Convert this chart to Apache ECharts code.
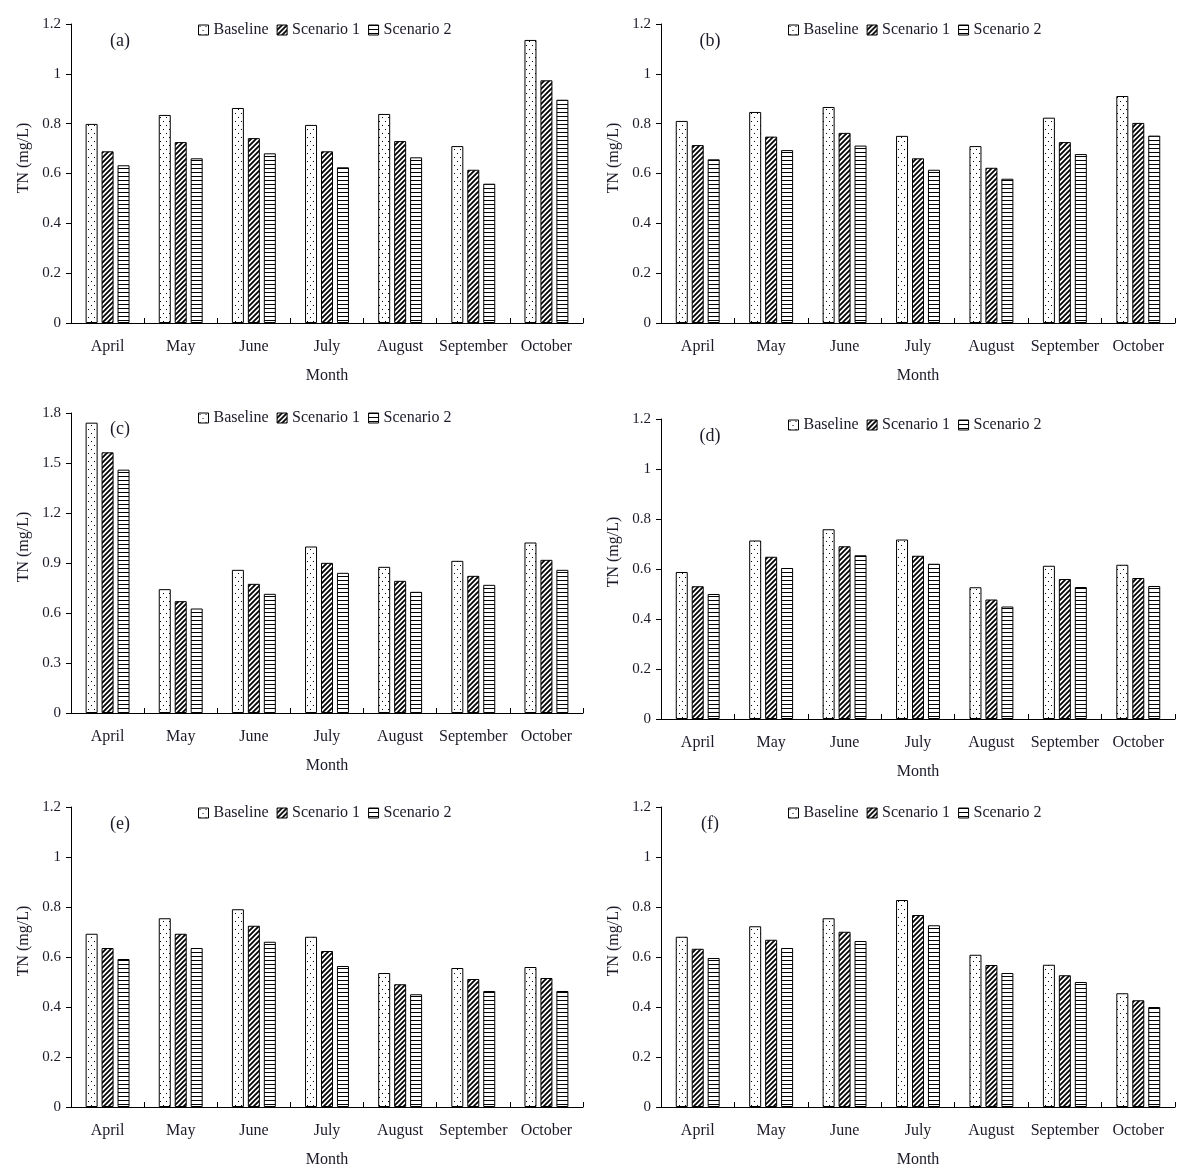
<!DOCTYPE html>
<html>
<head>
<meta charset="utf-8">
<title>TN by month</title>
<script src="https://cdn.jsdelivr.net/npm/echarts@6/dist/echarts.min.js"></script>
<style>
  html, body { margin: 0; padding: 0; background: #fff; }
  #chart { width: 1179px; height: 1170px; }
</style>
</head>
<body>
<div id="chart"></div>
<script>
// months on the x axis
const months = ['April', 'May', 'June', 'July', 'August', 'September', 'October'];
const seriesNames = ['Baseline', 'Scenario 1', 'Scenario 2'];
const panelLabels = ['(a)', '(b)', '(c)', '(d)', '(e)', '(f)'];

// TN (mg/L)
const baselineA  = [0.799, 0.835, 0.863, 0.795, 0.839, 0.710, 1.136];
const scenario1A = [0.689, 0.726, 0.742, 0.689, 0.730, 0.615, 0.974];
const scenario2A = [0.633, 0.661, 0.681, 0.625, 0.665, 0.559, 0.896];

const baselineB  = [0.811, 0.847, 0.867, 0.751, 0.710, 0.824, 0.911];
const scenario1B = [0.714, 0.748, 0.763, 0.661, 0.623, 0.726, 0.803];
const scenario2B = [0.657, 0.694, 0.712, 0.615, 0.579, 0.678, 0.752];

const baselineC  = [1.742, 0.743, 0.859, 0.999, 0.877, 0.913, 1.023];
const scenario1C = [1.564, 0.671, 0.775, 0.901, 0.793, 0.823, 0.919];
const scenario2C = [1.460, 0.627, 0.715, 0.841, 0.727, 0.769, 0.859];

const baselineD  = [0.588, 0.714, 0.759, 0.718, 0.527, 0.613, 0.617];
const scenario1D = [0.531, 0.649, 0.691, 0.653, 0.478, 0.560, 0.564];
const scenario2D = [0.500, 0.604, 0.655, 0.621, 0.450, 0.528, 0.532];

const baselineE  = [0.693, 0.755, 0.791, 0.681, 0.536, 0.556, 0.560];
const scenario1E = [0.636, 0.693, 0.725, 0.624, 0.491, 0.512, 0.516];
const scenario2E = [0.592, 0.636, 0.661, 0.564, 0.451, 0.464, 0.464];

const baselineF  = [0.681, 0.723, 0.755, 0.828, 0.609, 0.569, 0.455];
const scenario1F = [0.633, 0.669, 0.701, 0.768, 0.568, 0.527, 0.427];
const scenario2F = [0.596, 0.636, 0.664, 0.727, 0.536, 0.500, 0.400];

// y axis ranges per panel
const yMax      = [1.2, 1.2, 1.8, 1.2, 1.2, 1.2];
const yInterval = [0.2, 0.2, 0.3, 0.2, 0.2, 0.2];

const panelData = [
  [baselineA, scenario1A, scenario2A],
  [baselineB, scenario1B, scenario2B],
  [baselineC, scenario1C, scenario2C],
  [baselineD, scenario1D, scenario2D],
  [baselineE, scenario1E, scenario2E],
  [baselineF, scenario1F, scenario2F]
];

// layout (px)
const grids = [
  { left: 71,  top: 24,  width: 512, height: 299 },
  { left: 661, top: 24,  width: 514, height: 299 },
  { left: 71,  top: 413, width: 512, height: 300 },
  { left: 661, top: 419, width: 514, height: 300 },
  { left: 71,  top: 807, width: 512, height: 300 },
  { left: 661, top: 807, width: 514, height: 300 }
];
const legendPos = [[198, 22], [788, 22], [198, 410], [788, 417], [198, 805], [788, 805]];
const yNamePos  = [[24, 158], [614, 158], [24, 547], [614, 552], [24, 941], [614, 941]];
const labelPos  = [[120, 41], [710, 41], [120, 429], [710, 436], [120, 824], [710, 824]];

const FONT = '"Liberation Serif", "Times New Roman", serif';
const TXT = '#1a1a28';

// fill patterns drawn on small canvases
function makePattern(kind) {
  const c = document.createElement('canvas');
  const ctx = c.getContext('2d');
  if (kind === 'dots') {
    c.width = 6; c.height = 8;
    ctx.fillStyle = '#fff';
    ctx.fillRect(0, 0, 6, 8);
    ctx.fillStyle = '#000';
    ctx.fillRect(1, 1, 1, 1);
    ctx.fillRect(4, 5, 1, 1);
  } else if (kind === 'diag') {
    const s = 5;
    c.width = s; c.height = s;
    ctx.fillStyle = '#fff';
    ctx.fillRect(0, 0, s, s);
    ctx.strokeStyle = '#000';
    ctx.lineWidth = 1.8;
    ctx.beginPath();
    ctx.moveTo(0, s); ctx.lineTo(s, 0);
    ctx.moveTo(-1, 1); ctx.lineTo(1, -1);
    ctx.moveTo(s - 1, s + 1); ctx.lineTo(s + 1, s - 1);
    ctx.stroke();
  } else {
    c.width = 4; c.height = 4;
    ctx.fillStyle = '#fff';
    ctx.fillRect(0, 0, 4, 4);
    ctx.fillStyle = '#000';
    ctx.fillRect(0, 0, 4, 1);
  }
  return { image: c, repeat: 'repeat' };
}
const patterns = [makePattern('dots'), makePattern('diag'), makePattern('lines')];

const xAxes = [], yAxes = [], series = [], legends = [], graphics = [];

grids.forEach((g, i) => {
  xAxes.push({
    type: 'category',
    gridIndex: i,
    data: months,
    name: 'Month',
    nameLocation: 'middle',
    nameGap: 45,
    nameTextStyle: { fontFamily: FONT, fontSize: 16, color: TXT },
    axisLine: { lineStyle: { color: '#000', width: 1 } },
    axisTick: { show: true, inside: true, length: 5, alignWithLabel: false, lineStyle: { color: '#000' } },
    axisLabel: { fontFamily: FONT, fontSize: 16, color: TXT, margin: 16, interval: 0 }
  });
  yAxes.push({
    type: 'value',
    gridIndex: i,
    min: 0,
    max: yMax[i],
    interval: yInterval[i],
    splitLine: { show: false },
    axisLine: { show: true, lineStyle: { color: '#000', width: 1 } },
    axisTick: { show: true, length: 5, lineStyle: { color: '#000' } },
    axisLabel: {
      fontFamily: FONT, fontSize: 15, color: TXT, margin: 10,
      formatter: v => String(+v.toFixed(1))
    }
  });
  panelData[i].forEach((vals, k) => {
    series.push({
      type: 'bar',
      name: seriesNames[k],
      xAxisIndex: i,
      yAxisIndex: i,
      data: vals,
      barWidth: 12,
      barGap: '33%',
      itemStyle: { color: patterns[k], borderColor: '#000', borderWidth: 1 },
      emphasis: { disabled: true },
      animation: false
    });
  });
  legends.push({
    left: legendPos[i][0],
    top: legendPos[i][1],
    padding: 0,
    data: seriesNames,
    icon: 'rect',
    itemWidth: 10,
    itemHeight: 10,
    itemGap: 8,
    selectedMode: false,
    itemStyle: { borderColor: '#000', borderWidth: 1 },
    textStyle: { fontFamily: FONT, fontSize: 16, color: TXT }
  });
  graphics.push({
    type: 'text',
    x: yNamePos[i][0],
    y: yNamePos[i][1],
    rotation: Math.PI / 2,
    style: {
      text: 'TN (mg/L)', fontFamily: FONT, fontSize: 16, fill: TXT,
      textAlign: 'center', textVerticalAlign: 'middle'
    }
  });
  graphics.push({
    type: 'text',
    x: labelPos[i][0],
    y: labelPos[i][1],
    style: {
      text: panelLabels[i], fontFamily: FONT, fontSize: 18, fill: TXT,
      textAlign: 'center', textVerticalAlign: 'middle'
    }
  });
});

const chart = echarts.init(document.getElementById('chart'), null, { renderer: 'canvas' });
chart.setOption({
  backgroundColor: '#fff',
  animation: false,
  grid: grids,
  xAxis: xAxes,
  yAxis: yAxes,
  legend: legends,
  series: series,
  graphic: graphics
});
</script>
</body>
</html>
